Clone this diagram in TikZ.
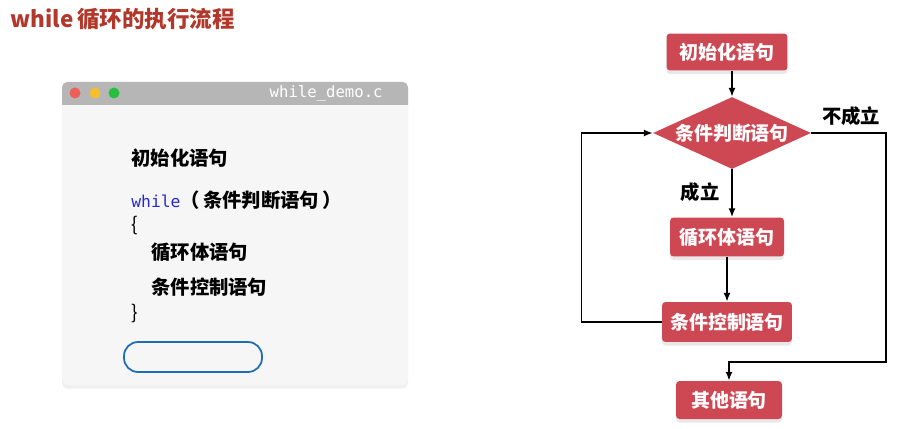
\documentclass[tikz,border=0pt]{standalone}
\usepackage{fontspec}
\setmainfont{Noto Sans CJK SC}
\setmonofont{DejaVu Sans Mono}
\usepackage{xcolor}
\usepackage{tikz}
\usetikzlibrary{positioning}
\usetikzlibrary{arrows.meta}
\usetikzlibrary{shapes.geometric, shadows, calc}

\definecolor{titlered}{RGB}{178,56,44}
\definecolor{boxred}{RGB}{206,72,84}
\definecolor{headgray}{RGB}{182,182,182}
\definecolor{bodygray}{RGB}{246,246,246}
\definecolor{btnblue}{RGB}{30,108,178}
\definecolor{kwblue}{RGB}{40,40,205}
\definecolor{dotred}{RGB}{238,95,87}
\definecolor{dotyellow}{RGB}{245,190,46}
\definecolor{dotgreen}{RGB}{40,190,64}

\begin{document}
\begin{tikzpicture}[x=0.02cm, y=-0.02cm]
			\tikzset{
				box/.style={rectangle, fill=boxred, rounded corners=2pt, text=white, font=\fontsize{10.8pt}{13pt}\selectfont\bfseries, inner sep=0pt, drop shadow={opacity=0.18, shadow xshift=0pt, shadow yshift=-2pt}},
				decision/.style={diamond, fill=boxred, aspect=2.2, inner sep=0pt, text=white, font=\fontsize{10.8pt}{13pt}\selectfont\bfseries},
				arr/.style={-{Latex[length=5pt, width=4pt]}, line width=0.9pt},
				lbl/.style={font=\fontsize{11pt}{13pt}\selectfont\bfseries},
				code/.style={anchor=west, inner sep=0pt, font=\fontsize{11pt}{13pt}\selectfont\bfseries}
			}
			\useasboundingbox (0,0) rectangle (909,429);

			% Title
			\node[anchor=west, inner sep=0pt, text=titlered, font=\fontsize{12.8pt}{15pt}\selectfont\bfseries] (title) at (10,19) {while\,循环的执行流程};

			% Code window
			\fill[bodygray, rounded corners=3pt, drop shadow={opacity=0.12, shadow xshift=0pt, shadow yshift=-2pt}] (62,82) rectangle (408,385);
			\fill[headgray] (62,105) {[rounded corners=3pt] -- (62,82) -- (408,82)} -- (408,105) -- cycle;
			\fill[dotred] (75,93) circle (5.5);
			\fill[dotyellow] (95,93) circle (5.5);
			\fill[dotgreen] (114,93) circle (5.5);
			\node[anchor=east, inner sep=0pt, text=white, font=\ttfamily\fontsize{8.9pt}{10pt}\selectfont] (fname) at (383,93) {while\_demo.c};

			\node[code] (cinit) at (131,158) {初始化语句};
			\node[code] (cwhile) at (131,200) {\textcolor{kwblue}{\mdseries\ttfamily\fontsize{9.3pt}{11pt}\selectfont while}（\,条件判断语句\,）};
			\node[code] (copen) at (131,225) {\mdseries\{};
			\node[code] (cbody) at (151,252) {循环体语句};
			\node[code] (cctrl) at (151,287) {条件控制语句};
			\node[code] (cclose) at (131,313) {\mdseries\}};
			\draw[btnblue, line width=1pt, rounded corners=8pt] (124,342) rectangle (262,372);

			% Flow chart
			\node[box, minimum width=2.42cm, minimum height=0.74cm] (init) at (727,52) {初始化语句};
			\node[decision, minimum width=3.16cm, minimum height=1.44cm] (cond) at (732,133) {条件判断语句};
			\node[box, minimum width=2.28cm, minimum height=0.78cm] (body) at (727,237) {循环体语句};
			\node[box, minimum width=2.6cm, minimum height=0.8cm] (ctrl) at (727,322) {条件控制语句};
			\node[box, minimum width=2.12cm, minimum height=0.76cm] (other) at (729,400) {其他语句};
			\coordinate (turn) at (886,362);

			\draw[arr] (init.south -| cond.north) -- (cond.north);
			\draw[arr] (cond.south) -- (cond.south |- body.north);
			\draw[arr] (body.south) -- (ctrl.north);
			\draw[arr] (ctrl.west) -- ++(-80,0) |- (cond.west);
			\draw[arr] (cond.east) -| (turn) -| (other.north);

			\node[lbl] (yes) at (700,192) {成立};
			\node[lbl] (no) at (851,116) {不成立};
		\end{tikzpicture}
\end{document}
